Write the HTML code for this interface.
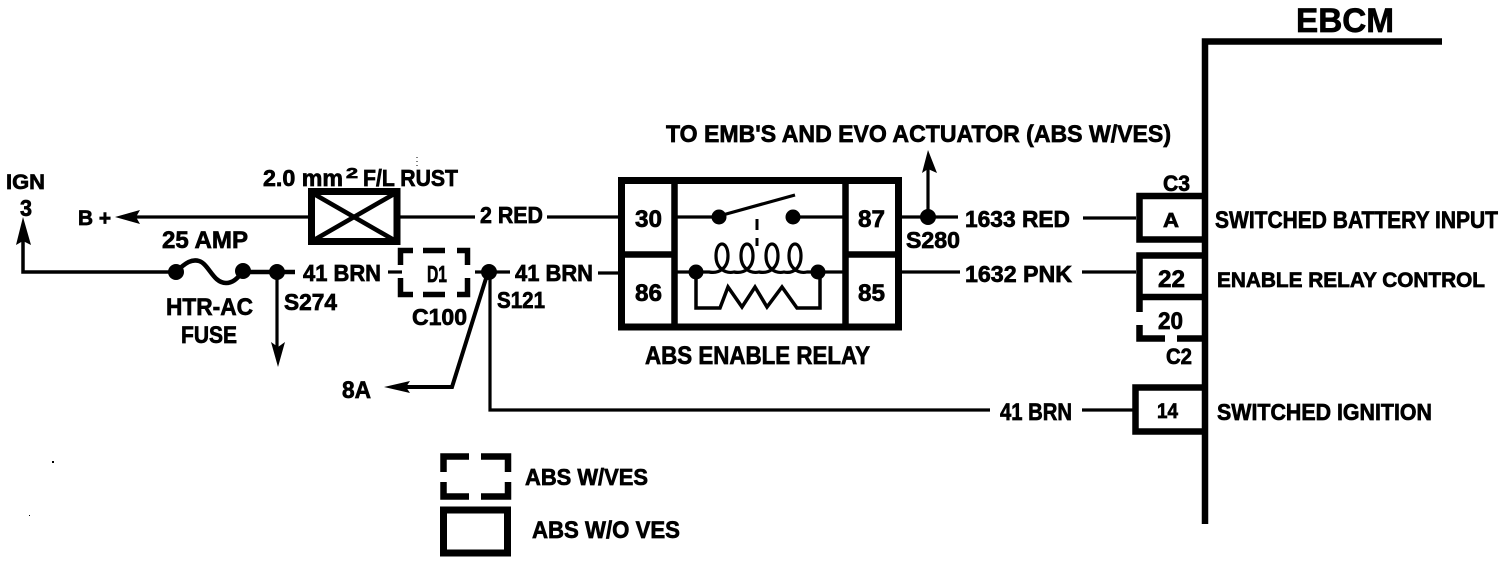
<!DOCTYPE html>
<html><head><meta charset="utf-8"><style>
html,body{margin:0;padding:0;background:#fff;width:1504px;height:562px;overflow:hidden}
svg{display:block}
text{font-family:"Liberation Sans",sans-serif;font-weight:700;font-size:22px;fill:#000;stroke:#000;stroke-width:.7px}
.l{stroke:#000;stroke-width:3.2;fill:none}
.t{stroke:#000;stroke-width:6.5;fill:none}
.d{fill:#000}
</style></head><body>
<svg width="1504" height="562" viewBox="0 0 1504 562" xmlns="http://www.w3.org/2000/svg">
<!-- EBCM -->
<text x="1296" y="32" style="font-size:34px" textLength="98" lengthAdjust="spacingAndGlyphs">EBCM</text>
<path d="M1205 524V41.500H1442" stroke="#000" stroke-width="6.500" fill="none"/>
<!-- IGN -->
<text x="6" y="189" style="font-size:21px" textLength="39" lengthAdjust="spacingAndGlyphs">IGN</text>
<text x="20" y="216" style="font-size:23px" textLength="12" lengthAdjust="spacingAndGlyphs">3</text>
<path class="l" d="M23 235V272H176" style="stroke-width:3.500"/>
<path class="d" d="M23 217L31 245L23 241L16 245z"/>
<text x="78" y="225" style="font-size:21px" textLength="33" lengthAdjust="spacingAndGlyphs">B +</text>
<path class="l" d="M130 217H310"/>
<path class="d" d="M115 217L140 210L136 217L140 224z"/>
<text x="162" y="248" style="font-size:24px" textLength="86" lengthAdjust="spacingAndGlyphs">25 AMP</text>
<path d="M176 272C186 262 192 259 199 261C209 264 213 283 226 283C234 283 238 277 243 272H295" stroke="#000" stroke-width="4.500" fill="none"/>
<circle class="d" cx="176" cy="272" r="8"/><circle class="d" cx="243" cy="271" r="8"/><circle class="d" cx="277" cy="272" r="8"/>
<text x="166" y="315" style="font-size:24px" textLength="87" lengthAdjust="spacingAndGlyphs">HTR-AC</text>
<text x="181" y="343" style="font-size:24px" textLength="56" lengthAdjust="spacingAndGlyphs">FUSE</text>
<path class="l" d="M277 272V350"/><path class="d" d="M278 367L285 342L278 347L271 342z"/>
<text x="284" y="310" style="font-size:23px" textLength="53" lengthAdjust="spacingAndGlyphs">S274</text>
<text x="303" y="281" style="font-size:23px" textLength="78" lengthAdjust="spacingAndGlyphs">41 BRN</text>
<path class="l" d="M388 272H402"/>
<!-- Fusible link -->
<text x="263" y="186" style="font-size:23px" textLength="80" lengthAdjust="spacingAndGlyphs">2.0 mm</text>
<text x="346" y="178" style="font-size:15px" textLength="12" lengthAdjust="spacingAndGlyphs">2</text>
<text x="363" y="186" style="font-size:23px" textLength="95" lengthAdjust="spacingAndGlyphs">F/L RUST</text>
<path d="M417 157V168" stroke="#000" stroke-width="1" stroke-dasharray="1 3" fill="none"/>
<rect x="311.500" y="191.500" width="85.500" height="50" fill="#fff" stroke="#000" stroke-width="7"/>
<path class="l" d="M314 194L394 240M394 194L314 240" style="stroke-width:4.500"/>
<path class="l" d="M398 217H475M547 217H620"/>
<text x="480" y="223" style="font-size:23px" textLength="63" lengthAdjust="spacingAndGlyphs">2 RED</text>
<!-- D1 -->
<path d="M400.500 265V250.500H413M423 250.500H445M457 250.500H467.500V265M400.500 278V294.500H413M423 294.500H445M457 294.500H467.500V278" stroke="#000" stroke-width="5.500" fill="none"/>
<text x="427" y="282" style="font-size:23px" textLength="20" lengthAdjust="spacingAndGlyphs">D1</text>
<text x="412" y="325" style="font-size:23px" textLength="55" lengthAdjust="spacingAndGlyphs">C100</text>
<circle class="d" cx="489" cy="272" r="8"/>
<path class="l" d="M475 272H510M490 272V410H990M1082 410H1134M598 273H620"/>
<path class="l" d="M488 272L452 387H400" style="stroke-width:4"/>
<path class="d" d="M384 387L410 381L406 387L410 393z"/>
<text x="342" y="398" style="font-size:24px" textLength="29" lengthAdjust="spacingAndGlyphs">8A</text>
<text x="497" y="308" style="font-size:23px" textLength="48" lengthAdjust="spacingAndGlyphs">S121</text>
<text x="515" y="281" style="font-size:23px" textLength="78" lengthAdjust="spacingAndGlyphs">41 BRN</text>
<!-- Relay -->
<rect x="621.500" y="180.500" width="277" height="146.500" fill="none" stroke="#000" stroke-width="7"/>
<path class="t" d="M674.500 180V327M845.500 180V327M622 254.500H675M846 254.500H898"/>
<text x="635" y="227" style="font-size:24px" textLength="27" lengthAdjust="spacingAndGlyphs">30</text>
<text x="635" y="301" style="font-size:24px" textLength="27" lengthAdjust="spacingAndGlyphs">86</text>
<text x="858" y="227" style="font-size:24px" textLength="27" lengthAdjust="spacingAndGlyphs">87</text>
<text x="858" y="301" style="font-size:24px" textLength="27" lengthAdjust="spacingAndGlyphs">85</text>
<path class="l" d="M677 217H719M793 217H843M719 216L795 195"/>
<circle class="d" cx="719" cy="217" r="7.500"/><circle class="d" cx="793" cy="217" r="7.500"/>
<path d="M757 219V230M757 238V246" stroke="#000" stroke-width="3" fill="none"/>
<path d="M677 272H709C719 274 728 268 728 256C728 240 716 240 716 256C716 268 725 274 734 272C744 274 753 268 753 256C753 240 741 240 741 256C741 268 750 274 759 272C769 274 778 268 778 256C778 240 766 240 766 256C766 268 775 274 784 272C793 274 801 268 801 256C801 240 789 240 789 256C789 268 798 274 807 272H843" stroke="#000" stroke-width="3.200" fill="none"/>
<circle class="d" cx="696" cy="272" r="7.500"/><circle class="d" cx="818" cy="272" r="7.500"/>
<path class="l" d="M696 272V308H720L728 287L742 307L755 287L767 307L782 287L797 308H820V272" style="stroke-width:3.500"/>
<text x="645" y="364" style="font-size:25px" textLength="225" lengthAdjust="spacingAndGlyphs">ABS ENABLE RELAY</text>
<!-- Right wires -->
<text x="666" y="142" style="font-size:24px" textLength="505" lengthAdjust="spacingAndGlyphs">TO EMB'S AND EVO ACTUATOR (ABS W/VES)</text>
<path class="l" d="M900 217H958M928 217V165"/><path class="d" d="M928 150L937 173L928 169L922 173z"/>
<circle class="d" cx="928" cy="217" r="8"/>
<text x="906" y="248" style="font-size:23px" textLength="54" lengthAdjust="spacingAndGlyphs">S280</text>
<text x="965" y="227" style="font-size:23px" textLength="105" lengthAdjust="spacingAndGlyphs">1633 RED</text>
<path class="l" d="M1083 218H1136M900 272H960M1082 272H1136"/>
<text x="965" y="282" style="font-size:23px" textLength="107" lengthAdjust="spacingAndGlyphs">1632 PNK</text>
<text x="1000" y="420" style="font-size:24px" textLength="72" lengthAdjust="spacingAndGlyphs">41 BRN</text>
<!-- Connectors -->
<text x="1163" y="191" style="font-size:22px" textLength="27" lengthAdjust="spacingAndGlyphs">C3</text>
<path class="t" d="M1204 196H1139.500V239.500H1204"/>
<text x="1163" y="227" style="font-size:20px" textLength="16" lengthAdjust="spacingAndGlyphs">A</text>
<path class="t" d="M1204 255.500H1139.500V312M1139 297H1204"/>
<text x="1158" y="287" style="font-size:24px" textLength="27" lengthAdjust="spacingAndGlyphs">22</text>
<path class="t" d="M1139.500 325V338.500H1165M1177 338.500H1204"/>
<text x="1158" y="329" style="font-size:24px" textLength="25" lengthAdjust="spacingAndGlyphs">20</text>
<text x="1166" y="364" style="font-size:22px" textLength="26" lengthAdjust="spacingAndGlyphs">C2</text>
<path class="t" d="M1204 387.500H1135.500V431.500H1204"/>
<text x="1157" y="418" style="font-size:21px" textLength="21" lengthAdjust="spacingAndGlyphs">14</text>
<text x="1215" y="228" style="font-size:24px" textLength="283" lengthAdjust="spacingAndGlyphs">SWITCHED BATTERY INPUT</text>
<text x="1217" y="287" style="font-size:21px" textLength="268" lengthAdjust="spacingAndGlyphs">ENABLE RELAY CONTROL</text>
<text x="1217" y="420" style="font-size:23px" textLength="215" lengthAdjust="spacingAndGlyphs">SWITCHED IGNITION</text>
<!-- Legend -->
<path class="t" d="M443.500 472V456.500H469M481 456.500H508V472M443.500 482V496.500H469M481 496.500H508V482"/>
<text x="525" y="485" style="font-size:23px" textLength="123" lengthAdjust="spacingAndGlyphs">ABS W/VES</text>
<rect x="443.500" y="510" width="64" height="43" fill="none" stroke="#000" stroke-width="7"/>
<text x="532" y="538" style="font-size:24px" textLength="148" lengthAdjust="spacingAndGlyphs">ABS W/O VES</text>
<!-- Specks -->
<rect x="52" y="461" width="2" height="2" fill="#000"/>
<rect x="29" y="515" width="1" height="1" fill="#000"/>
</svg>
</body></html>
